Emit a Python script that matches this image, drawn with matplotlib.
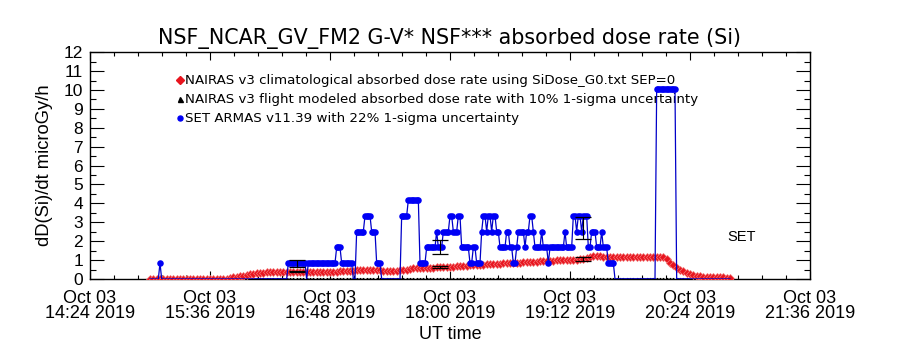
import matplotlib
matplotlib.use("Agg")
import matplotlib.pyplot as plt
import matplotlib.dates as mdates
from matplotlib.ticker import MultipleLocator, FixedLocator
import numpy as np
import datetime as dt

DAY = "2019-10-03"

# ---------------- data ----------------
# NAIRAS v3 climatological absorbed dose rate (red diamonds), one value every 2 min from 15:00
red_start = "15:00"
red_step_min = 2
red_values = [0, 0, 0, 0, 0, 0, 0, 0, 0, 0, 0, 0,
              0, 0, 0, 0, 0, 0, 0, 0, 0, 0, 0, 0,
              0.04, 0.08, 0.12, 0.15, 0.18, 0.22, 0.25, 0.27, 0.29, 0.31, 0.33, 0.35,
              0.36, 0.37, 0.37, 0.38, 0.38, 0.38, 0.38, 0.39, 0.39, 0.38, 0.38, 0.39,
              0.39, 0.38, 0.39, 0.39, 0.38, 0.39, 0.39, 0.39, 0.39, 0.40, 0.40, 0.41,
              0.42, 0.44, 0.45, 0.46, 0.47, 0.47, 0.46, 0.46, 0.45, 0.45, 0.44, 0.44,
              0.44, 0.44, 0.44, 0.45, 0.46, 0.50, 0.54, 0.57, 0.58, 0.58, 0.59, 0.59,
              0.60, 0.60, 0.61, 0.61, 0.62, 0.62, 0.63, 0.64, 0.66, 0.68, 0.70, 0.71,
              0.72, 0.73, 0.74, 0.75, 0.76, 0.77, 0.78, 0.79, 0.80, 0.81, 0.82, 0.83,
              0.84, 0.85, 0.86, 0.87, 0.88, 0.89, 0.90, 0.91, 0.92, 0.93, 0.94, 0.95,
              0.96, 0.97, 0.98, 0.98, 0.99, 0.99, 1.00, 1.00, 1.01, 1.03, 1.07, 1.12,
              1.16, 1.19, 1.21, 1.20, 1.18, 1.17, 1.16, 1.15, 1.15, 1.15, 1.15, 1.15,
              1.15, 1.15, 1.15, 1.15, 1.15, 1.15, 1.15, 1.15, 1.15, 1.15, 1.15, 1.05,
              0.86, 0.72, 0.60, 0.50, 0.40, 0.33, 0.27, 0.21, 0.16, 0.13, 0.11, 0.10,
              0.09, 0.09, 0.08, 0.08, 0.08, 0.07, 0.07]

# NAIRAS v3 flight modeled absorbed dose rate (black triangles), 10% uncertainty
flt_times = ["16:28", "17:54", "19:20"]
flt_values = [0.39, 0.63, 1.05]

# SET ARMAS v11.39 runs: start, end (inclusive, 1-min samples), value
set_start = ["15:00","15:06","15:07","16:23","16:34","16:35","16:52","16:55","17:02","17:04","17:09","17:13",
             "17:16","17:19","17:31","17:35","17:42","17:46","17:52","17:53","17:56","18:00","18:02","18:05",
             "18:07","18:12","18:14","18:16","18:19","18:20","18:22","18:23","18:25","18:26","18:28","18:30",
             "18:34","18:36","18:38","18:40","18:41","18:45","18:46","18:48","18:50","18:51","18:55","18:56",
             "18:59","19:00","19:09","19:10","19:14","19:16","19:17","19:19","19:20","19:23","19:25","19:28",
             "19:31","19:32","19:35","19:39","20:04","20:16"]
set_end   = ["15:05","15:06","16:22","16:33","16:34","16:51","16:54","17:01","17:03","17:08","17:12","17:15",
             "17:18","17:30","17:34","17:41","17:45","17:51","17:52","17:55","17:59","18:01","18:04","18:06",
             "18:11","18:13","18:15","18:18","18:19","18:21","18:22","18:24","18:25","18:27","18:29","18:33",
             "18:35","18:37","18:39","18:40","18:44","18:45","18:47","18:49","18:50","18:54","18:55","18:58",
             "18:59","19:08","19:09","19:13","19:15","19:16","19:18","19:19","19:22","19:24","19:27","19:30",
             "19:31","19:34","19:38","20:03","20:15","20:48"]
set_value = [0,0.84,0,0.84,0,0.84,1.67,0.84,0,2.51,3.34,2.51,
             0.84,0,3.34,4.18,0.84,1.67,2.51,1.67,2.51,3.34,2.51,3.34,
             1.67,0.84,1.67,0.84,2.51,3.34,2.51,3.34,2.51,3.34,2.51,1.67,
             2.51,1.67,0.84,1.67,2.51,1.67,2.51,3.34,2.51,1.67,2.51,1.67,
             0.84,1.67,2.51,1.67,3.34,2.51,3.34,2.51,3.34,1.67,2.51,1.67,
             2.51,1.67,0.84,0,10.03,0]

# SET ARMAS points that carry a 22% error bar
set_err_times = ["16:28", "17:54", "19:20"]
set_err_values = [0.84, 1.67, 2.70]

y_ticks = list(range(0, 13))
x_tick_times = ["14:24", "15:36", "16:48", "18:00", "19:12", "20:24", "21:36"]


def T(s):
    return dt.datetime.strptime(DAY + " " + s, "%Y-%m-%d %H:%M")


# red sample times
r0 = T(red_start)
rt = [r0 + dt.timedelta(minutes=red_step_min * k) for k in range(len(red_values))]

# expand SET runs to 1-minute samples
set_t, set_v = [], []
for s, e, v in zip(set_start, set_end, set_value):
    t0, t1 = T(s), T(e)
    n = int((t1 - t0).total_seconds() // 60)
    for k in range(n + 1):
        set_t.append(t0 + dt.timedelta(minutes=k))
        set_v.append(v)
set_t_nz = [t for t, v in zip(set_t, set_v) if v > 0]
set_v_nz = [v for v in set_v if v > 0]
set_t_z = [t for t, v in zip(set_t, set_v) if v == 0]

# ---------------- figure ----------------
plt.rcParams['font.family'] = ['DejaVu Sans']
NARROW = ['Liberation Sans', 'DejaVu Sans']
fig = plt.figure(figsize=(9, 3.5), dpi=100)
ax = fig.add_axes([0.1, 0.203, 0.8, 0.648])

BLUE = '#0000f5'

# flight-modeled baseline markers (black) along zero
ax.plot(rt, [0] * len(rt), linestyle='none', marker='^', ms=1.8, color='black', zorder=2)
# SET ARMAS zero samples (small)
ax.plot(set_t_z, [0] * len(set_t_z), linestyle='none', marker='o', ms=1.8, color='#101090',
        mew=0, zorder=2)

# red climatological
ax.plot(rt, red_values, linestyle='none', marker='D', ms=3.8, mfc='#e8141e', mec='#f27a7a',
        mew=0.5, zorder=3)

# blue SET ARMAS
ax.plot(set_t, set_v, '-', color='#0000c8', lw=0.9, zorder=4)
ax.plot(set_t_nz, set_v_nz, linestyle='none', marker='o', ms=4.7, color=BLUE, mew=0, zorder=5)

# error bars
ft = [T(s) for s in flt_times]
ax.errorbar(ft, flt_values, yerr=[0.1 * v for v in flt_values], fmt='none', ecolor='black',
            elinewidth=0.8, capsize=5.5, capthick=0.9, zorder=6)
et = [T(s) for s in set_err_times]
ax.errorbar(et, set_err_values, yerr=[0.22 * v for v in set_err_values], fmt='none', ecolor='black',
            elinewidth=0.8, capsize=5.5, capthick=0.9, zorder=6)

# axes ranges & ticks
ax.set_xlim(T("14:24"), T("21:36"))
ax.set_ylim(0, 12)
ax.yaxis.set_major_locator(FixedLocator(y_ticks))
ax.yaxis.set_minor_locator(MultipleLocator(0.5))
xt = [mdates.date2num(T(s)) for s in x_tick_times]
ax.xaxis.set_major_locator(FixedLocator(xt))
ax.xaxis.set_minor_locator(FixedLocator(np.arange(xt[0], xt[-1] + 1e-9, (xt[1] - xt[0]) / 5)))
ax.set_xticklabels(["Oct 03\n" + s + " 2019" for s in x_tick_times])
ax.tick_params(axis='x', which='major', direction='in', length=6, width=0.8, top=True, pad=8)
ax.tick_params(axis='x', which='minor', direction='in', length=3, width=0.8, top=True)
ax.tick_params(axis='y', which='major', direction='in', length=10, width=0.8, right=True, pad=5)
ax.tick_params(axis='y', which='minor', direction='in', length=4.5, width=0.8, right=True)
for lab in ax.get_xticklabels():
    lab.set_family(NARROW)
    lab.set_fontsize(13)
    lab.set_linespacing(0.85)
for lab in ax.get_yticklabels():
    lab.set_family(NARROW)
    lab.set_fontsize(12.5)
for sp in ax.spines.values():
    sp.set_linewidth(1.0)

# legend (manual)
leg = [("NAIRAS v3 climatological absorbed dose rate using SiDose_G0.txt SEP=0", 'D', '#e8141e', 0.877),
       ("NAIRAS v3 flight modeled absorbed dose rate with 10% 1-sigma uncertainty", '^', 'black', 0.792),
       ("SET ARMAS v11.39 with 22% 1-sigma uncertainty", 'o', BLUE, 0.708)]
for txt, mk, c, yy in leg:
    ax.plot([0.125], [yy], marker=mk, ms=3.6, color=c, transform=ax.transAxes, clip_on=False)
    ax.text(0.1325, yy, txt, transform=ax.transAxes, fontsize=9.6, va='center', ha='left')

ax.text(0.885, 0.185, "SET", transform=ax.transAxes, fontsize=10.5, va='center', ha='left',
        family=NARROW)

fig.text(0.5, 0.891, "NSF_NCAR_GV_FM2 G-V* NSF*** absorbed dose rate (Si)", ha='center',
         va='center', fontsize=14.9)
fig.text(0.05, 0.529, "dD(Si)/dt microGy/h", rotation=90, ha='center', va='center', fontsize=13.2,
         family=NARROW)
fig.text(0.5, 0.043, "UT time", ha='center', va='center', fontsize=13, family=NARROW)

fig.savefig("out.png", dpi=100)
